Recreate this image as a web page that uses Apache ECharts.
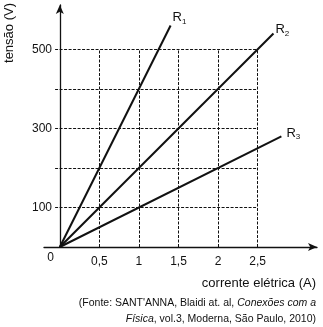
<!DOCTYPE html>
<html>
<head>
<meta charset="utf-8">
<script src="https://cdn.jsdelivr.net/npm/echarts@6/dist/echarts.min.js"></script>
<style>
  html, body { margin: 0; padding: 0; background: #fff; }
  #chart { width: 323px; height: 327px; }
</style>
</head>
<body>
<div id="chart"></div>
<script>
// Tension (V) versus current (A) for three resistors
const currentTicks = [0.5, 1, 1.5, 2, 2.5];
const tensionGrid = [100, 200, 300, 400, 500];
const tensionLabels = [100, 300, 500];

const r1 = [[0, 0], [1.4, 560]];
const r2 = [[0, 0], [2.7, 540]];
const r3 = [[0, 0], [2.8, 280]];
const seriesNames = ['1', '2', '3'];
const labelOffsets = [[-1, -8], [-1, -4], [2, -3]];

const FONT = '"Liberation Sans", Arial, sans-serif';
const INK = '#111';

const gridLineStyle = { color: INK, width: 1, type: [3, 1.5] };

// dashed guide box: horizontal lines from the axis to 2.5, vertical lines up to 500
const xMaxGrid = currentTicks[currentTicks.length - 1];
const yMaxGrid = tensionGrid[tensionGrid.length - 1];
const guideLines = [];
tensionGrid.forEach(v => guideLines.push([{ coord: [-0.06, v] }, { coord: [xMaxGrid, v] }]));
currentTicks.forEach(v => guideLines.push([{ coord: [v, 0] }, { coord: [v, yMaxGrid] }]));

function resistorSeries(data, idx) {
  return {
    type: 'line',
    name: 'R' + seriesNames[idx],
    data: data,
    symbol: 'none',
    lineStyle: { color: INK, width: 2 },
    silent: true,
    z: 5,
    endLabel: {
      show: true,
      distance: 3,
      offset: labelOffsets[idx],
      formatter: '{r|R}{s|' + seriesNames[idx] + '}',
      rich: {
        r: { fontFamily: FONT, fontSize: 13, color: INK },
        s: { fontFamily: FONT, fontSize: 8, color: INK, padding: [8, 0, 0, 0] }
      }
    }
  };
}

const chart = echarts.init(document.getElementById('chart'), null, { renderer: 'canvas' });
chart.setOption({
  animation: false,
  backgroundColor: '#fff',
  grid: { left: 44, right: 6, top: 5, bottom: 80 },
  xAxis: {
    type: 'value',
    min: -0.2,
    max: 3.25,
    splitLine: { show: false },
    axisLine: {
      lineStyle: { color: INK, width: 1.3 },
      symbol: ['none', 'arrow'],
      symbolSize: [6, 9]
    },
    axisTick: { show: false },
    axisLabel: {
      customValues: currentTicks,
      formatter: v => String(v).replace('.', ','),
      fontFamily: FONT, fontSize: 12, color: INK, margin: 9
    }
  },
  yAxis: {
    type: 'value',
    min: 0,
    max: 612,
    splitLine: { show: false },
    axisLine: {
      onZero: true,
      lineStyle: { color: INK, width: 1.3 },
      symbol: ['none', 'arrow'],
      symbolSize: [6, 9]
    },
    axisTick: { show: false },
    axisLabel: {
      customValues: tensionLabels,
      fontFamily: FONT, fontSize: 12, color: INK, margin: -8
    }
  },
  series: [
    {
      type: 'line',
      data: [],
      silent: true,
      markLine: {
        silent: true,
        symbol: ['none', 'none'],
        label: { show: false },
        lineStyle: gridLineStyle,
        data: guideLines
      }
    },
    resistorSeries(r1, 0),
    resistorSeries(r2, 1),
    resistorSeries(r3, 2)
  ],
  graphic: [
    {
      type: 'text', left: 3, top: 3, rotation: Math.PI / 2,
      style: { text: 'tensão (V)', fontFamily: FONT, fontSize: 13, fill: INK }
    },
    {
      type: 'text', x: 54, y: 258,
      style: { text: '0', fontFamily: FONT, fontSize: 12, fill: INK, align: 'right', verticalAlign: 'middle' }
    },
    {
      type: 'text', x: 316, y: 283,
      style: { text: 'corrente elétrica (A)', fontFamily: FONT, fontSize: 13, fill: INK, align: 'right', verticalAlign: 'middle' }
    },
    {
      type: 'text', x: 316, y: 303,
      style: {
        text: "{n|(Fonte: SANT'ANNA, Blaidi at. al, }{i|Conexões com a}",
        align: 'right', verticalAlign: 'middle',
        rich: {
          n: { fontFamily: FONT, fontSize: 10.5, fill: INK },
          i: { fontFamily: FONT, fontSize: 10.5, fill: INK, fontStyle: 'italic' }
        }
      }
    },
    {
      type: 'text', x: 316, y: 319,
      style: {
        text: '{i|Física}{n|, vol.3, Moderna, São Paulo, 2010)}',
        align: 'right', verticalAlign: 'middle',
        rich: {
          n: { fontFamily: FONT, fontSize: 10.5, fill: INK },
          i: { fontFamily: FONT, fontSize: 10.5, fill: INK, fontStyle: 'italic' }
        }
      }
    }
  ]
});
</script>
</body>
</html>
